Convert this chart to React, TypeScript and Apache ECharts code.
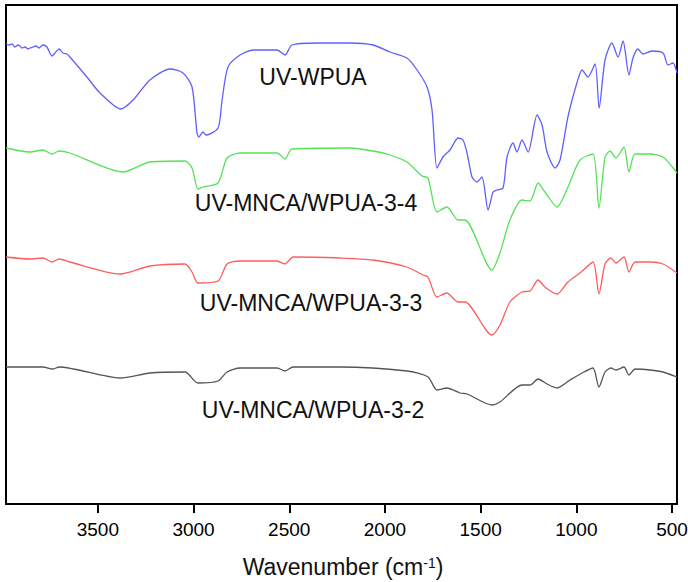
import React, { useEffect, useRef } from "react";
import * as echarts from "echarts";

// Wavenumbers (cm-1) and transmittance (arbitrary units, stacked with offsets) for each spectrum
const wnWPUA = [3980,3964,3948,3933,3917,3907,3896,3881,3865,3855,3839,3823,3808,3787,3766,3740,3724,3703,3682,3661,3646,3557,3489,3379,3316,3228,3123,3055,3008,2982,2972,2951,2935,2872,2851,2820,2757,2689,2564,2522,2486,2355,2183,2062,1974,1885,1832,1780,1754,1728,1697,1660,1618,1592,1571,1545,1519,1493,1461,1435,1415,1383,1362,1331,1310,1284,1252,1205,1179,1153,1111,1085,1044,997,970,939,902,881,850,814,782,756,725,704,678,652,605,547,521,495,474];
const tWPUA = [460,459,460,457,459,458,456,457,455,456,457,458,456,459,457,448,451,455,451,450,447,427,411,395,404,424,435,431,417,371,367,372,369,376,404,437,449,454,454,449,459,461,461,459,452,446,434,417,394,336,347,354,366,364,351,327,322,327,294,312,314,316,347,361,352,364,352,389,379,352,336,344,387,421,434,427,440,396,444,461,447,463,429,446,455,450,453,451,439,441,431];

const wn34 = [3980,3855,3787,3740,3703,3646,3369,3228,3045,3008,2977,2951,2872,2825,2757,2564,2522,2486,2183,2062,1974,1885,1806,1775,1728,1676,1618,1582,1441,1399,1347,1284,1242,1200,1164,1101,1044,981,913,882,850,824,793,751,725,693,615,547,474];
const t34 = [356,352,354,350,353,351,332,342,343,336,315,317,321,346,351,351,345,355,356,353,349,342,328,326,292,297,284,284,234,251,284,304,303,321,312,297,317,344,350,296,347,353,346,357,332,350,350,347,331];

const wn33 = [3980,3855,3787,3740,3703,3646,3384,3228,3045,3008,2977,2872,2825,2757,2564,2522,2480,2235,2062,1885,1801,1775,1728,1676,1618,1582,1441,1399,1347,1284,1242,1200,1164,1101,1044,981,913,882,850,819,793,751,725,693,615,547,474];
const t33 = [247,245,246,242,245,242,230,238,240,232,221,223,240,243,243,240,247,246,244,237,229,227,207,211,202,202,169,179,202,212,213,224,217,210,222,231,242,210,240,246,241,247,232,242,242,240,231];

const wn32 = [3980,3787,3734,3703,3384,3228,3045,2977,2872,2825,2757,2564,2522,2480,2235,1885,1775,1728,1676,1608,1571,1441,1399,1284,1242,1200,1153,1101,1033,970,913,882,850,819,793,751,725,693,615,547,474];
const t32 = [137,137,135,137,126,131,132,121,123,132,136,136,133,137,137,133,127,114,116,111,110,99,102,119,119,125,120,116,124,131,136,117,132,136,134,137,129,135,134,132,127];

const seriesNames = ["UV-WPUA", "UV-MNCA/WPUA-3-4", "UV-MNCA/WPUA-3-3", "UV-MNCA/WPUA-3-2"];
const tickValues = [500, 1000, 1500, 2000, 2500, 3000, 3500];
const xMin = 474;
const xMax = 3980;

const FONT = "'Liberation Sans', Arial, sans-serif";

function zip(xs: number[], ys: number[]) {
  return xs.map((x, i) => [x, ys[i]]);
}

export default function App() {
  const ref = useRef<HTMLDivElement>(null);
  useEffect(() => {
    if (!ref.current) return;
    const chart = echarts.init(ref.current, undefined, { renderer: "svg", width: 688, height: 582 });
    const colors = ["#5f5fff", "#55e355", "#ff5c5c", "#555555"];
    const datasets = [zip(wnWPUA, tWPUA), zip(wn34, t34), zip(wn33, t33), zip(wn32, t32)];
    const labelPos = [
      [313, 77],
      [306, 203],
      [311, 303],
      [313, 410],
    ];
    chart.setOption({
      animation: false,
      backgroundColor: "#ffffff",
      grid: {
        left: 6,
        top: 5,
        right: 11,
        bottom: 78,
        show: true,
        borderColor: "#000",
        borderWidth: 2,
        containLabel: false,
        outerBoundsMode: "none",
      },
      xAxis: {
        type: "value",
        inverse: true,
        min: xMin,
        max: xMax,
        axisLine: { show: true, lineStyle: { color: "#000", width: 2 } },
        axisTick: {
          show: true,
          inside: false,
          length: 9,
          lineStyle: { color: "#000", width: 2 },
          customValues: tickValues,
        },
        axisLabel: {
          customValues: tickValues,
          color: "#000",
          fontSize: 19,
          fontFamily: FONT,
          margin: 16,
          hideOverlap: false,
          formatter: (v: number) => String(v),
        },
        splitLine: { show: false },
      },
      yAxis: {
        type: "value",
        min: 0,
        max: 499,
        show: false,
        splitLine: { show: false },
      },
      series: datasets.map((d, i) => ({
        name: seriesNames[i],
        type: "line",
        data: d,
        showSymbol: false,
        smooth: 0.25,
        lineStyle: { color: colors[i], width: 1.3 },
        itemStyle: { color: colors[i] },
      })),
      graphic: [
        ...seriesNames.map((n, i) => ({
          type: "text",
          x: labelPos[i][0],
          y: labelPos[i][1],
          style: {
            text: n,
            fontSize: 23,
            fontFamily: FONT,
            fill: "#111",
            align: "center",
            verticalAlign: "middle",
          },
        })),
        {
          type: "text",
          x: 343,
          y: 567,
          style: {
            text: "{a|Wavenumber (cm}{s|-1}{a|)}",
            align: "center",
            verticalAlign: "middle",
            rich: {
              a: { fontSize: 23, fontFamily: FONT, fill: "#111", color: "#111" },
              s: { fontSize: 14, fontFamily: FONT, fill: "#111", color: "#111", verticalAlign: "top" },
            },
          },
        },
      ],
    });
    return () => chart.dispose();
  }, []);
  return (
    <div
      ref={ref}
      style={{ position: "fixed", left: 0, top: 0, width: 688, height: 582, background: "#fff" }}
    />
  );
}
